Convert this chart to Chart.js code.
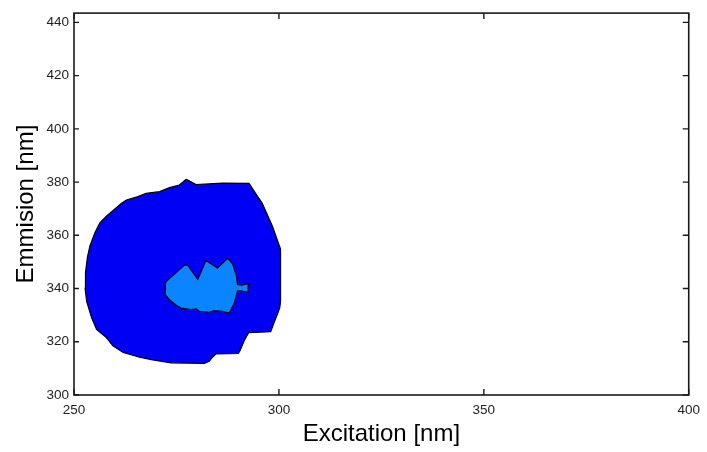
<!DOCTYPE html>
<html>
<head>
<meta charset="utf-8">
<title>Excitation-emission contour</title>
<script src="https://cdn.jsdelivr.net/npm/chart.js@4/dist/chart.umd.min.js"></script>
<style>
  html, body { margin: 0; padding: 0; background: #ffffff; }
  #wrap { width: 707px; height: 452px; }
</style>
</head>
<body>
<div id="wrap"><canvas id="eem" width="707" height="452"></canvas></div>
<script>
// Outer contour level (excitation nm, emission nm), traced clockwise from the top bump
const outerExcitation = [277.4, 279.8, 286.2, 292.7, 294.3, 295.9, 298.4, 300.4, 300.4, 300.2,
  299.6, 298.8, 298.0, 292.6, 291.5, 290.5, 290.1, 284.6, 283.8, 283.0,
  281.8, 273.7, 269.2, 266.0, 262.0, 259.5, 257.9, 255.5, 254.3, 253.1,
  252.7, 252.8, 253.3, 253.9, 255.1, 256.3, 257.9, 261.6, 262.8, 265.6,
  267.6, 270.9, 273.3, 275.7, 277.4];
const outerEmission = [381.1, 379.1, 379.6, 379.5, 375.8, 372.1, 363.5, 354.8, 335.1, 332.7,
  330.2, 327.1, 323.8, 323.4, 320.3, 316.6, 315.6, 315.4, 314.2, 312.7,
  311.9, 312.1, 313.2, 314.2, 316.0, 318.5, 321.6, 324.7, 329.0, 335.1,
  340.1, 346.0, 352.0, 356.1, 361.0, 364.7, 367.2, 372.1, 373.3, 374.6,
  375.8, 376.4, 377.9, 378.9, 381.1];

// Inner (higher intensity) contour level
const innerExcitation = [272.3, 272.6, 274.9, 276.9, 277.7, 280.2, 281.0, 282.2, 283.4, 285.0,
  287.5, 288.7, 289.6, 289.9, 290.9, 292.7, 292.5, 290.7, 289.9, 289.1,
  287.9, 286.2, 284.2, 283.0, 280.6, 279.9, 278.6, 276.1, 274.8, 273.3,
  272.3, 272.3];
const innerEmission = [341.9, 342.8, 346.0, 348.7, 348.9, 343.5, 346.2, 350.6, 349.3, 347.7,
  351.4, 349.3, 345.0, 341.5, 341.3, 341.9, 338.6, 339.1, 339.1, 334.5,
  330.8, 331.4, 331.7, 331.1, 331.4, 332.4, 332.1, 332.7, 333.9, 335.8,
  337.6, 341.9];

// Axis ticks
const excitationTicks = [250, 300, 350, 400];
const emissionTicks = [300, 320, 340, 360, 380, 400, 420, 440];

const toPoints = (xs, ys) => xs.map((x, i) => ({ x: x, y: ys[i] }));

// Boxed frame with inward tick marks on all four sides
const framePlugin = {
  id: 'frame',
  afterDraw(chart) {
    const { ctx, chartArea: a, scales } = chart;
    ctx.save();
    ctx.strokeStyle = '#1a1a1a';
    ctx.lineWidth = 1.6;
    ctx.strokeRect(a.left, a.top, a.right - a.left, a.bottom - a.top);
    ctx.lineWidth = 1.4;
    ctx.beginPath();
    for (const t of scales.x.ticks) {
      const px = scales.x.getPixelForValue(t.value);
      ctx.moveTo(px, a.bottom); ctx.lineTo(px, a.bottom - 6);
      ctx.moveTo(px, a.top); ctx.lineTo(px, a.top + 6);
    }
    for (const t of scales.y.ticks) {
      const py = scales.y.getPixelForValue(t.value);
      ctx.moveTo(a.left, py); ctx.lineTo(a.left + 5, py);
      ctx.moveTo(a.right, py); ctx.lineTo(a.right - 6, py);
    }
    ctx.stroke();
    ctx.restore();
  }
};

const tickFont = { family: '"Liberation Sans", Arial, sans-serif', size: 13.5 };
const titleFont = { family: '"Liberation Sans", Arial, sans-serif', size: 24 };

new Chart(document.getElementById('eem'), {
  type: 'scatter',
  data: {
    datasets: [
      {
        label: 'level 2',
        data: toPoints(innerExcitation, innerEmission),
        showLine: true,
        fill: 'shape',
        backgroundColor: '#0a84ff',
        borderColor: '#000000',
        borderWidth: 1.2,
        pointRadius: 0,
        tension: 0,
        order: 1
      },
      {
        label: 'level 1',
        data: toPoints(outerExcitation, outerEmission),
        showLine: true,
        fill: 'shape',
        backgroundColor: '#0000f5',
        borderColor: '#000000',
        borderWidth: 1.2,
        pointRadius: 0,
        tension: 0,
        order: 2
      }
    ]
  },
  options: {
    responsive: false,
    animation: false,
    layout: { padding: { top: 6, right: 15, left: 0, bottom: 0 } },
    plugins: { legend: { display: false }, tooltip: { enabled: false } },
    scales: {
      x: {
        type: 'linear',
        min: 250,
        max: 400,
        afterBuildTicks: s => { s.ticks = excitationTicks.map(v => ({ value: v })); },
        afterFit: s => { s.height = 57; },
        grid: { display: false, drawTicks: false },
        border: { display: false },
        ticks: { font: tickFont, color: '#222222', padding: 7, maxRotation: 0 },
        title: { display: true, text: 'Excitation [nm]', font: titleFont, color: '#000000', padding: { top: 0, bottom: 3 } }
      },
      y: {
        type: 'linear',
        min: 300,
        max: 443.5,
        afterBuildTicks: s => { s.ticks = emissionTicks.map(v => ({ value: v })); },
        afterFit: s => { s.width = 74; },
        grid: { display: false, drawTicks: false },
        border: { display: false },
        ticks: { font: tickFont, color: '#222222', padding: 5 },
        title: { display: true, text: 'Emmision [nm]', font: titleFont, color: '#000000', padding: { top: 12, bottom: 0 } }
      }
    }
  },
  plugins: [framePlugin]
});
</script>
</body>
</html>
